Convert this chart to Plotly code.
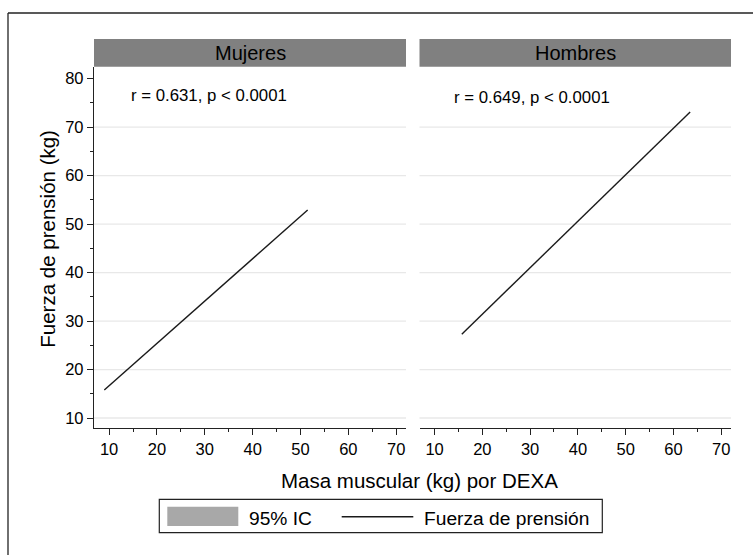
import plotly.graph_objects as go

# ---- data ----
panels = ["Mujeres", "Hombres"]
mujeres_x = [9.0, 51.5]
mujeres_y = [15.8, 52.9]
hombres_x = [15.7, 63.5]
hombres_y = [27.3, 73.1]
stats_text = ["r = 0.631, p < 0.0001", "r = 0.649, p < 0.0001"]
x_ticks = [10, 20, 30, 40, 50, 60, 70]
y_ticks = [10, 20, 30, 40, 50, 60, 70, 80]
grid_vals = [10, 20, 30, 40, 50, 60, 70]
x_title = "Masa muscular (kg) por DEXA"
y_title = "Fuerza de prensión (kg)"
legend_labels = ["95% IC", "Fuerza de prensión"]

FONT = "Liberation Sans, Arial, sans-serif"
W, H = 753, 555
ML, MR, MT, MB = 94, 22, 39, 127
PW = W - ML - MR
PH = H - MT - MB


def px(x):
    return (x - ML) / PW


def py(y):
    return (H - MB - y) / PH


xd_left = [0, px(406)]
xd_right = [px(419.5), 1]
yd = [0, py(66.7)]
xrange_ = [6.85, 72.05]
yrange_ = [7.94, 82.47]

fig = go.Figure()
line_style = dict(color="#1a1a1a", width=1.4)
fig.add_trace(go.Scatter(x=mujeres_x, y=mujeres_y, mode="lines", line=line_style,
                         xaxis="x", yaxis="y", showlegend=False, name=legend_labels[1]))
fig.add_trace(go.Scatter(x=hombres_x, y=hombres_y, mode="lines", line=line_style,
                         xaxis="x2", yaxis="y2", showlegend=False, name=legend_labels[1]))

tickfont = dict(family=FONT, size=16.5, color="#000")
xaxis_common = dict(range=xrange_, tickvals=x_ticks, ticks="outside", ticklen=6, tickwidth=1,
                    tickcolor="#222", showline=True, linecolor="#222", linewidth=1.3,
                    showgrid=False, zeroline=False, tickfont=tickfont,
                    minor=dict(dtick=5, tick0=0, ticks="outside", ticklen=3, tickcolor="#222",
                               showgrid=False))
fig.update_layout(
    width=W, height=H,
    margin=dict(l=ML, r=MR, t=MT, b=MB),
    paper_bgcolor="white", plot_bgcolor="white",
    font=dict(family=FONT, color="#000"),
    showlegend=False,
    xaxis=dict(domain=xd_left, anchor="y", **xaxis_common),
    xaxis2=dict(domain=xd_right, anchor="y2", **xaxis_common),
    yaxis=dict(domain=yd, anchor="x", range=yrange_, tickvals=y_ticks, ticks="outside",
               ticklen=6, tickcolor="#222", showline=True, linecolor="#222", linewidth=1.3,
               showgrid=False, zeroline=False, tickfont=tickfont,
               minor=dict(dtick=5, tick0=0, ticks="outside", ticklen=3, tickcolor="#222",
                          showgrid=False)),
    yaxis2=dict(domain=yd, anchor="x2", range=yrange_, showticklabels=False, ticks="",
                showline=False, showgrid=False, zeroline=False),
)

shapes = []
# gridlines
for xr, yr in (("x domain", "y"), ("x2 domain", "y2")):
    for g in grid_vals:
        shapes.append(dict(type="line", xref=xr, yref=yr, x0=0, x1=1, y0=g, y1=g,
                           line=dict(color="#e8e8e8", width=1.3), layer="below"))
# strips
for dom in (xd_left, xd_right):
    shapes.append(dict(type="rect", xref="paper", yref="paper", x0=dom[0], x1=dom[1],
                       y0=yd[1], y1=1.0, fillcolor="#808080", line=dict(width=0)))
# outer frame (left & top visible)
shapes.append(dict(type="line", xref="paper", yref="paper", x0=px(8), x1=px(8),
                   y0=py(13), y1=py(560), line=dict(color="#222", width=1.3)))
shapes.append(dict(type="line", xref="paper", yref="paper", x0=px(8), x1=px(760),
                   y0=py(13), y1=py(13), line=dict(color="#222", width=1.3)))
# manual legend
shapes.append(dict(type="rect", xref="paper", yref="paper", x0=px(159.3), x1=px(602.3),
                   y0=py(532.7), y1=py(499.3), line=dict(color="#222", width=1.2),
                   fillcolor="white"))
shapes.append(dict(type="rect", xref="paper", yref="paper", x0=px(167.3), x1=px(238.3),
                   y0=py(526), y1=py(506.7), line=dict(width=0), fillcolor="#a8a8a8"))
shapes.append(dict(type="line", xref="paper", yref="paper", x0=px(341.7), x1=px(413.3),
                   y0=py(516.8), y1=py(516.8), line=dict(color="#1a1a1a", width=1.4)))
fig.update_layout(shapes=shapes)

ann = []
for dom, name in zip((xd_left, xd_right), panels):
    ann.append(dict(text=name, xref="paper", yref="paper", x=(dom[0] + dom[1]) / 2,
                    y=(yd[1] + 1) / 2, xanchor="center", yanchor="middle", showarrow=False,
                    font=dict(family=FONT, size=20, color="#000")))
ann.append(dict(text=stats_text[0], xref="paper", yref="paper", x=px(129), y=py(95),
                xanchor="left", yanchor="middle", showarrow=False,
                font=dict(family=FONT, size=16.8, color="#000")))
ann.append(dict(text=stats_text[1], xref="paper", yref="paper", x=px(451.7), y=py(97.5),
                xanchor="left", yanchor="middle", showarrow=False,
                font=dict(family=FONT, size=16.8, color="#000")))
ann.append(dict(text=x_title, xref="paper", yref="paper", x=px(419), y=py(480),
                xanchor="center", yanchor="middle", showarrow=False,
                font=dict(family=FONT, size=20.5, color="#000")))
ann.append(dict(text=y_title, xref="paper", yref="paper", x=px(46.7), y=py(239),
                xanchor="center", yanchor="middle", showarrow=False, textangle=-90,
                font=dict(family=FONT, size=20.5, color="#000")))
ann.append(dict(text=legend_labels[0], xref="paper", yref="paper", x=px(247.3), y=py(518),
                xanchor="left", yanchor="middle", showarrow=False,
                font=dict(family=FONT, size=19.2, color="#000")))
ann.append(dict(text=legend_labels[1], xref="paper", yref="paper", x=px(422.3), y=py(518),
                xanchor="left", yanchor="middle", showarrow=False,
                font=dict(family=FONT, size=19.2, color="#000")))
fig.update_layout(annotations=ann)

fig.write_html("out.html",
               config={"displayModeBar": False},
               post_script="document.body.style.margin='0';document.body.style.padding='0';")
